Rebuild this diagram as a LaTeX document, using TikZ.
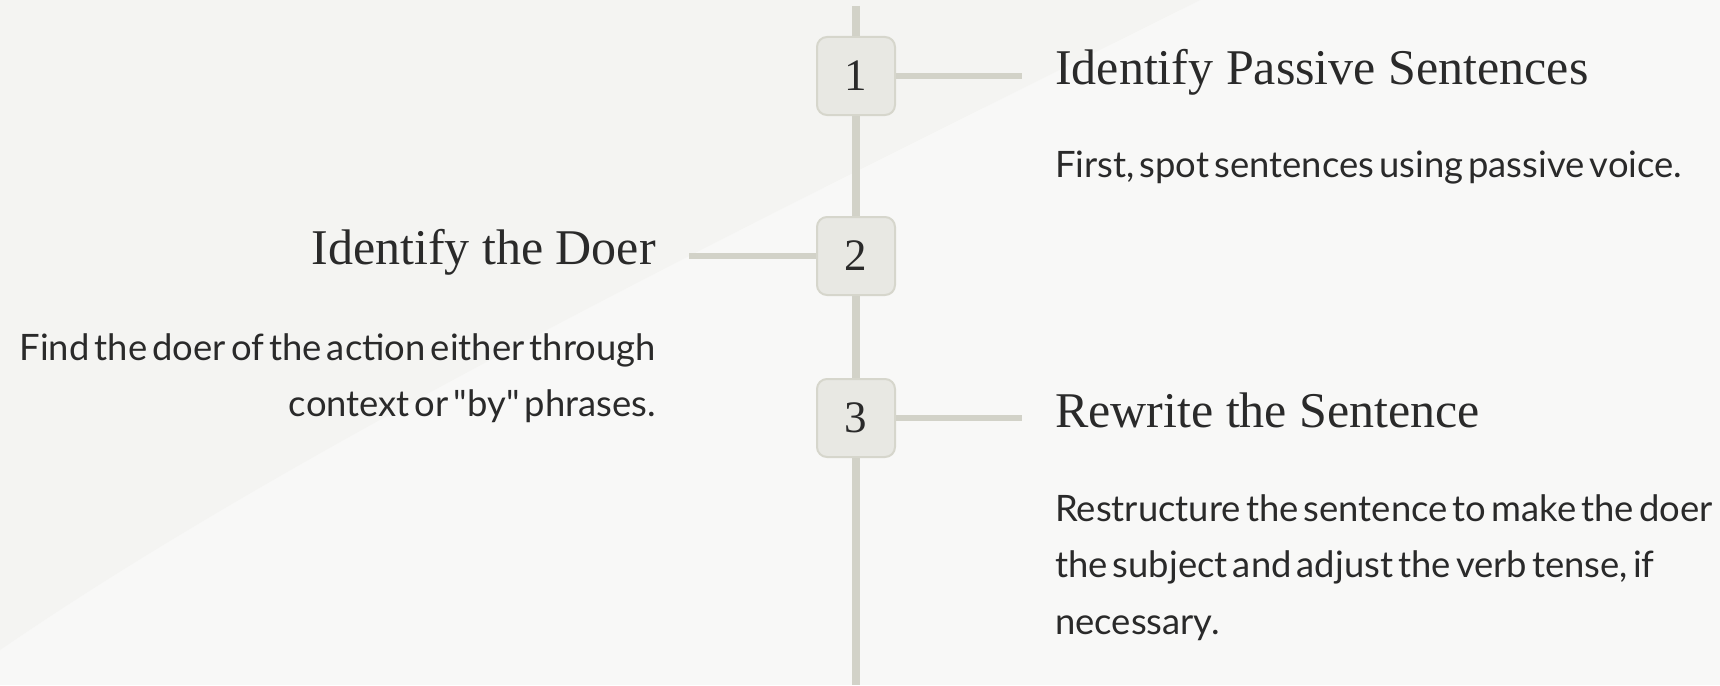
\documentclass[tikz,border=0pt]{standalone}
\usepackage{fontspec}
\newfontfamily\bodyfont[WordSpace=0.55]{Lato}
\newfontfamily\headfont{Liberation Serif}
\usetikzlibrary{positioning}
\definecolor{pagebg}{HTML}{F8F8F7}
\definecolor{shadebg}{HTML}{F4F4F2}
\definecolor{spine}{HTML}{D2D2C8}
\definecolor{stepfill}{HTML}{E8E8E3}
\definecolor{stepline}{HTML}{D6D6CC}
\definecolor{ink}{HTML}{2A2A2A}

\begin{document}
\begin{tikzpicture}[x=1pt,y=-1pt]
\tikzset{stepbox/.style={draw=stepline,line width=2pt,fill=stepfill,rounded corners=10pt,minimum size=78pt,inner sep=0pt,text=ink,font=\headfont\fontsize{45}{45}\selectfont}}
\tikzset{link/.style={draw=spine,line width=6pt}}
\tikzset{title/.style={inner sep=0pt,text=ink,font=\headfont\fontsize{50}{60}\selectfont}}
\tikzset{blurb/.style={inner sep=0pt,text=ink,font=\bodyfont\fontsize{36.4}{56.5}\selectfont}}
% background
\fill[pagebg] (0,0) rectangle (1720,685);
\fill[shadebg] (0,0) -- (1200,0) .. controls (820,190) and (320,430) .. (0,650) -- cycle;
\useasboundingbox (0,0) rectangle (1720,685);
% spine
\coordinate (top) at (856,6);
\coordinate (bottom) at (856,685);
\draw[spine,line width=8pt] (top) -- (bottom);
% steps
\node[stepbox] (s1) at (856,76) {1};
\node[stepbox] (s2) at (856,256) {2};
\node[stepbox] (s3) at (856,418) {3};
\coordinate (e1) at (1022,76);
\coordinate (e2) at (689,256);
\coordinate (e3) at (1022,418);
\draw[link] (s1.east) -- (e1);
\draw[link] (s2.west) -- (e2);
\draw[link] (s3.east) -- (e3);
% texts
\node[title,anchor=base west] (t1) at (1055,84.5) {Identify Passive Sentences};
\node[blurb,anchor=base west] (b1) at (1055,177.5) {First, spot sentences using passive voice.};
\node[title,anchor=base east] (t2) at (656,264) {Identify the Doer};
\node[blurb,anchor=north east,align=right] (b2) at (656,333) {Find the doer of the action either through\\context or "by" phrases.};
\node[title,anchor=base west] (t3) at (1055,427) {Rewrite the Sentence};
\node[blurb,anchor=north west,align=left] (b3) at (1055,494) {Restructure the sentence to make the doer\\the subject and adjust the verb tense, if\\necessary.};
\end{tikzpicture}
\end{document}
